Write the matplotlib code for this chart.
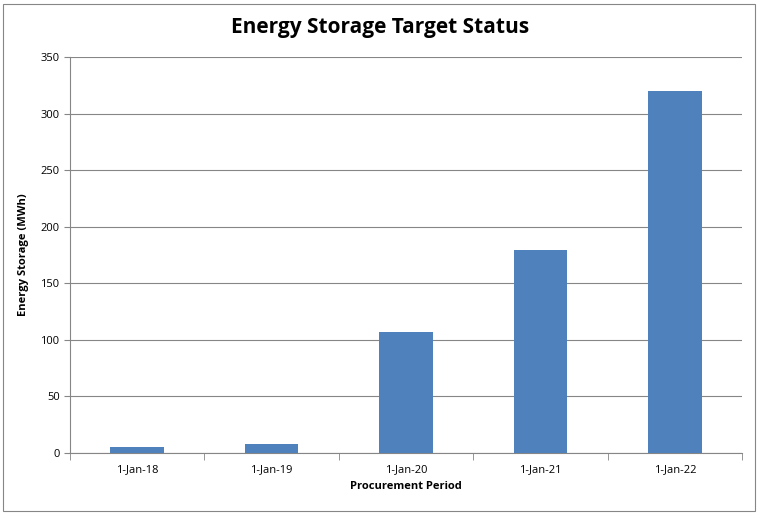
import matplotlib
matplotlib.use("Agg")
import matplotlib.pyplot as plt
from matplotlib.patches import Rectangle
import numpy as np

categories = ["1-Jan-18", "1-Jan-19", "1-Jan-20", "1-Jan-21", "1-Jan-22"]
values = [5, 8, 107, 179, 320]
yticks = [0, 50, 100, 150, 200, 250, 300, 350]

plt.rcParams['font.family'] = ['Open Sans', 'DejaVu Sans']
fig = plt.figure(figsize=(7.61, 5.19), dpi=100)
fig.patch.set_facecolor('white')
fig.add_artist(Rectangle((3/761, 1-511/519), 752/761, 507/519, transform=fig.transFigure,
                         fill=False, edgecolor='#868686', lw=0.8))
ax = fig.add_axes([70/761, 66/519, 672/761, 396/519])
x = np.arange(len(categories))
ax.bar(x, values, width=0.4, color='#4F81BD', zorder=3)
ax.set_xlim(-0.5, len(categories) - 0.5)
ax.set_ylim(0, 350)
ax.set_yticks(yticks)
ax.set_yticklabels([str(v) for v in yticks], fontsize=8)
ax.yaxis.grid(True, color='#868686', lw=0.8, zorder=0)
ax.set_xticks(x)
ax.set_xticklabels(categories, fontsize=8)
ax.set_xticks(np.arange(-0.5, len(categories)), minor=True)
ax.tick_params(axis='x', which='major', length=0, pad=8)
ax.tick_params(axis='x', which='minor', length=5, color='#868686')
ax.tick_params(axis='y', length=4, color='#868686')
for s in ['top', 'right']:
    ax.spines[s].set_visible(False)
for s in ['left', 'bottom']:
    ax.spines[s].set_color('#868686')
ax.set_xlabel("Procurement Period", fontsize=8, fontweight='bold', labelpad=4)
ax.set_ylabel("Energy Storage (MWh)", fontsize=8, fontweight='bold', labelpad=8)
fig.text(380/761, 1-27/519, "Energy Storage Target Status", ha='center', va='center',
         fontsize=15, fontweight='bold')
fig.savefig("out.png", dpi=100)
